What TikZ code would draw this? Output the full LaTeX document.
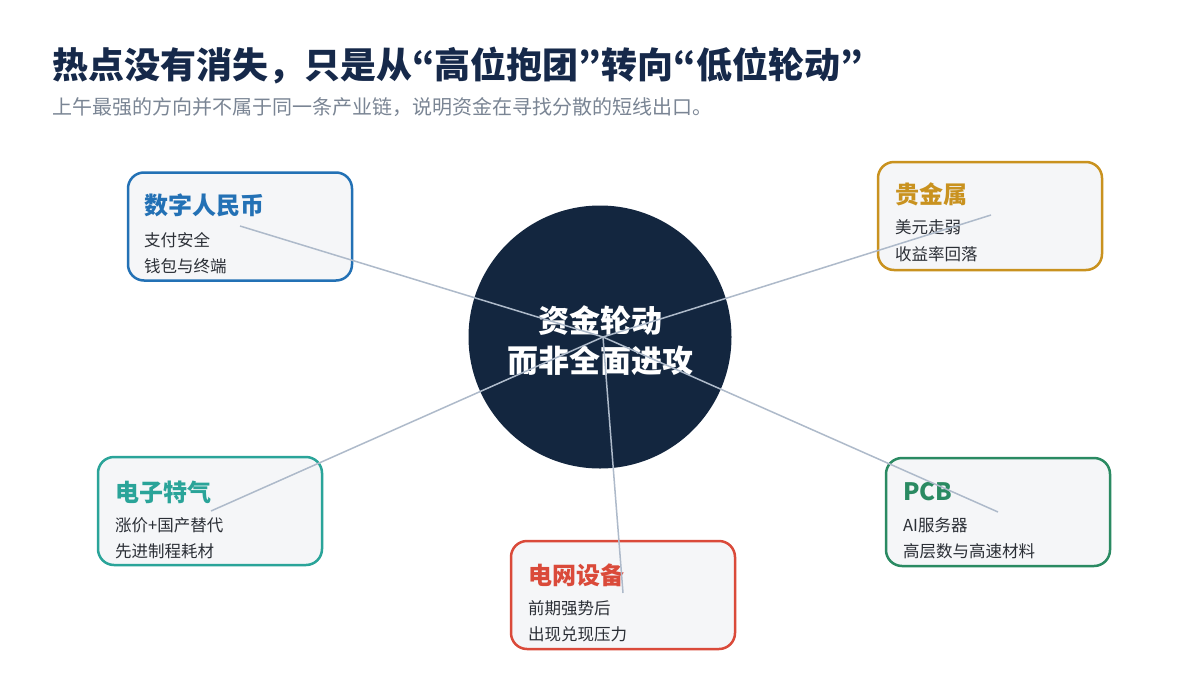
\documentclass[tikz,border=0pt]{standalone}
\usepackage{fontspec}
\setmainfont{Noto Sans CJK SC}
\newfontfamily\jpquote{Noto Sans CJK JP}
\newcommand\myoq{{\jpquote “}}
\newcommand\mycq{{\jpquote ”}}
\definecolor{navy}{HTML}{13263F}
\definecolor{titlec}{HTML}{16294A}
\definecolor{subc}{HTML}{7A8594}
\definecolor{bodyc}{HTML}{2B2F36}
\definecolor{cardfill}{HTML}{F5F6F8}
\definecolor{linec}{HTML}{AEBACA}
\definecolor{cblue}{HTML}{2371B5}
\definecolor{cgold}{HTML}{C9921F}
\definecolor{cteal}{HTML}{2AA499}
\definecolor{cred}{HTML}{DA4A3A}
\definecolor{cgreen}{HTML}{2A8A62}
\tikzset{
  card/.style={draw=#1, line width=2.5pt, fill=cardfill, rounded corners=16pt,
    minimum width=224pt, minimum height=108pt, inner sep=0pt},
  cardtitle/.style={anchor=west, inner sep=0pt, text=#1,
    font=\fontsize{24}{28}\selectfont\bfseries},
  cardline/.style={anchor=west, inner sep=0pt, text=bodyc,
    font=\fontsize{16.5}{20}\selectfont},
  spoke/.style={draw=linec, line width=1.5pt}
}
\begin{document}
\begin{tikzpicture}[x=1pt,y=-1pt]
\useasboundingbox[fill=white] (0,0) rectangle (1200,675);
% title
\node[anchor=west, inner sep=0pt, text=titlec, font=\fontsize{36}{40}\selectfont\bfseries] (title) at (52,66) {热点没有消失，只是从\myoq 高位抱团\mycq 转向\myoq 低位轮动\mycq};
\node[anchor=west, inner sep=0pt, text=subc, font=\fontsize{20}{24}\selectfont] (subtitle) at (52,107) {上午最强的方向并不属于同一条产业链，说明资金在寻找分散的短线出口。};
% hub
\node[circle, fill=navy, minimum size=263pt, inner sep=0pt] (hub) at (600,337) {};
\node[text=white, font=\fontsize{31}{40}\selectfont\bfseries, align=center, inner sep=0pt] (hubtext) at (600,341) {资金轮动\\而非全面进攻};
% cards
\node[card=cblue] (c1) at (240,226.5) {};
\node[cardtitle=cblue] (c1t) at (144,205) {数字人民币};
\node[cardline] (c1a) at (144,240) {支付安全};
\node[cardline] (c1b) at (144,266) {钱包与终端};

\node[card=cgold] (c2) at (990,216) {};
\node[cardtitle=cgold] (c2t) at (895,194) {贵金属};
\node[cardline] (c2a) at (895,227) {美元走弱};
\node[cardline] (c2b) at (895,254) {收益率回落};

\node[card=cteal] (c3) at (210,511) {};
\node[cardtitle=cteal] (c3t) at (115,492) {电子特气};
\node[cardline] (c3a) at (115,525) {涨价+国产替代};
\node[cardline] (c3b) at (115,551) {先进制程耗材};

\node[card=cred] (c4) at (623,595) {};
\node[cardtitle=cred] (c4t) at (528,575) {电网设备};
\node[cardline] (c4a) at (528,608) {前期强势后};
\node[cardline] (c4b) at (528,634) {出现兑现压力};

\node[card=cgreen] (c5) at (998,512) {};
\node[cardtitle=cgreen] (c5t) at (903,492) {PCB};
\node[cardline] (c5a) at (903,525) {AI服务器};
\node[cardline] (c5b) at (903,551) {高层数与高速材料};
% spokes
\coordinate (hc) at (603,337);
\coordinate (e1) at (240,226);
\coordinate (e2) at (991,215);
\coordinate (e3) at (211,511);
\coordinate (e4) at (623,593);
\coordinate (e5) at (998,512);
\draw[spoke] (hc) -- (e1);
\draw[spoke] (hc) -- (e2);
\draw[spoke] (hc) -- (e3);
\draw[spoke] (hc) -- (e4);
\draw[spoke] (hc) -- (e5);
\end{tikzpicture}
\end{document}
